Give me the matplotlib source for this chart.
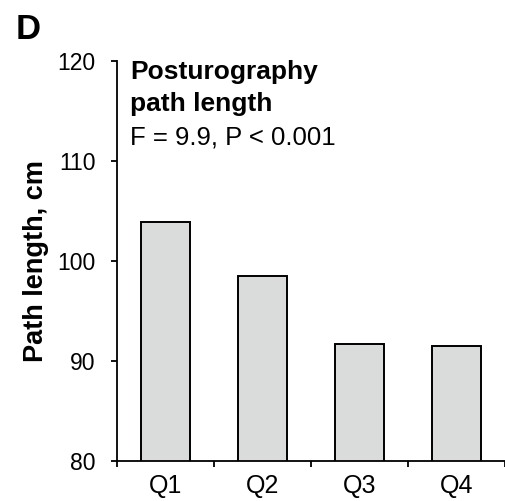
import matplotlib
matplotlib.use("Agg")
import matplotlib.pyplot as plt

# values
quartiles = ["Q1", "Q2", "Q3", "Q4"]
path_length = [103.9, 98.5, 91.7, 91.5]
y_ticks = [80, 90, 100, 110, 120]

plt.rcParams["font.family"] = ["Liberation Sans", "DejaVu Sans"]

W, H = 505, 501
fig = plt.figure(figsize=(W / 100, H / 100), dpi=100)
ax = fig.add_axes([117 / W, (H - 460.7) / H, 388 / W, 400 / H])

x = list(range(len(quartiles)))
ax.bar(x, path_length, width=0.5, color="#dadcdb", edgecolor="black", linewidth=1.4)

ax.set_xlim(-0.5, 3.5)
ax.set_ylim(80, 120)

ax.spines["top"].set_visible(False)
ax.spines["right"].set_visible(False)
for s in ["left", "bottom"]:
    ax.spines[s].set_linewidth(1.3)

# major x ticks sit between the bars, labels on minor ticks at bar centres
ax.set_xticks([i - 0.5 for i in range(len(quartiles) + 1)])
ax.set_xticklabels([])
ax.set_xticks(x, minor=True)
ax.set_xticklabels(quartiles, minor=True, fontsize=18)
ax.tick_params(axis="x", which="major", direction="out", length=4.5, width=1.3)
ax.tick_params(axis="x", which="minor", length=0, pad=9.5)

ax.set_yticks(y_ticks)
ax.set_yticklabels([str(v) for v in y_ticks], fontsize=16.5)
ax.tick_params(axis="y", direction="out", length=4.5, width=1.3, pad=11)

ax.set_ylabel("Path length, cm", fontsize=19.5, fontweight="bold")
ax.yaxis.set_label_coords((49 - 117) / 388, 0.5)

fig.text(16 / W, 1 - 39.3 / H, "D", fontsize=25, fontweight="bold", va="baseline")
fig.text(130 / W, 1 - 78.7 / H, "Posturography", fontsize=19, fontweight="bold", va="baseline")
fig.text(130 / W, 1 - 110.7 / H, "path length", fontsize=19, fontweight="bold", va="baseline")
fig.text(130 / W, 1 - 144 / H, "F = 9.9, P < 0.001", fontsize=18.5, va="baseline")

fig.savefig("out.png", dpi=100)
